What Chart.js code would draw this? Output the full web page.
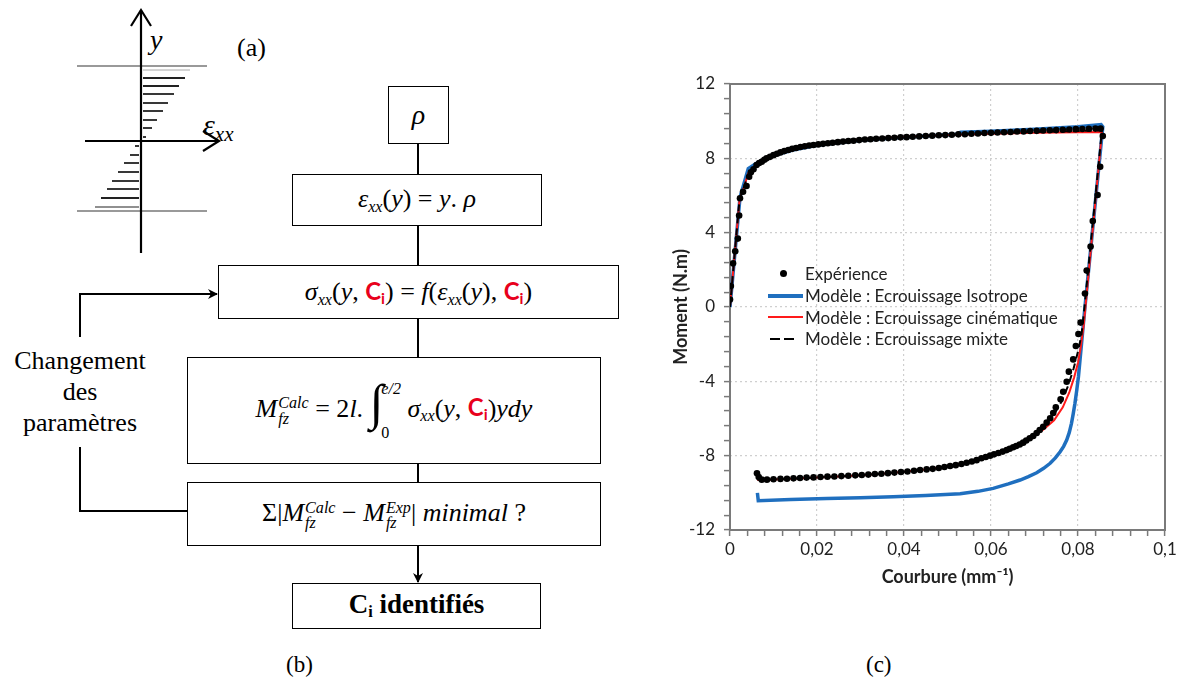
<!DOCTYPE html>
<html>
<head>
<meta charset="utf-8">
<script src="https://cdn.jsdelivr.net/npm/chart.js@4.4.1/dist/chart.umd.min.js"></script>
<style>
  body { margin: 0; width: 1184px; height: 699px; background: #fff; position: relative; overflow: hidden; font-family: "Liberation Serif", serif; }
  .abs { position: absolute; }
  .box { position: absolute; border: 1.5px solid #000; box-sizing: border-box; display: flex; align-items: center; justify-content: center; white-space: pre; font-family: "Liberation Serif", serif; font-style: italic; font-size: 26px; background: #fff; }
  .up { font-style: normal; }
  .ci { color: #e8001c; font-style: normal; font-weight: bold; font-family: Lato, sans-serif; font-size: 0.92em; }
  .ci sub { font-size: 0.65em; vertical-align: -0.25em; }
  .st { display: inline-block; vertical-align: middle; line-height: 0.95; font-size: 0.62em; text-align: left; margin-left: 1px; }
  .sb { font-size: 0.62em; vertical-align: -0.3em; }
  .lbl { position: absolute; font-size: 22px; }
  #legend { position: absolute; left: 768px; top: 263px; font-family: Lato, sans-serif; font-size: 17px; color: #222; }
  #legend .row { height: 21.7px; display: flex; align-items: center; }
  #legend .sym { width: 36px; height: 10px; position: relative; margin-right: 1px; }
</style>
</head>
<body>

<!-- (a) strain profile and (b) flowchart connectors -->
<svg class="abs" style="left:0;top:0" width="660" height="699">
  <defs>
    <marker id="ah" markerWidth="10" markerHeight="10" refX="9" refY="5" orient="auto" markerUnits="userSpaceOnUse">
      <path d="M0,0 L10,5 L0,10 L3,5 z" fill="#000"/>
    </marker>
  </defs>
  <!-- section limits -->
  <line x1="77" y1="66" x2="207" y2="66" stroke="#999" stroke-width="2"/>
  <line x1="77" y1="211" x2="207" y2="211" stroke="#999" stroke-width="2"/>
  <!-- strain hatch -->
  <g stroke="#222" stroke-width="1.8">
    <line x1="143" y1="70" x2="190" y2="70" stroke="#aaa" stroke-width="1"/>
    <line x1="143" y1="78" x2="185" y2="78"/>
    <line x1="143" y1="86" x2="179" y2="86"/>
    <line x1="143" y1="94" x2="174" y2="94"/>
    <line x1="143" y1="103" x2="168" y2="103"/>
    <line x1="143" y1="111" x2="163" y2="111"/>
    <line x1="143" y1="120" x2="157" y2="120"/>
    <line x1="143" y1="128" x2="152" y2="128"/>
    <line x1="143" y1="137" x2="146" y2="137"/>
    <line x1="135" y1="146" x2="139" y2="146"/>
    <line x1="130" y1="155" x2="139" y2="155"/>
    <line x1="124" y1="163" x2="139" y2="163"/>
    <line x1="118" y1="172" x2="139" y2="172"/>
    <line x1="112" y1="181" x2="139" y2="181"/>
    <line x1="107" y1="189" x2="139" y2="189"/>
    <line x1="101" y1="198" x2="139" y2="198"/>
    <line x1="95" y1="207" x2="139" y2="207" stroke-width="1.2"/>
  </g>
  <!-- axes -->
  <line x1="141" y1="253" x2="141" y2="10" stroke="#000" stroke-width="2.2"/>
  <polyline points="131,26 141,10 151,26" fill="none" stroke="#000" stroke-width="2.2"/>
  <line x1="85" y1="141" x2="219" y2="141" stroke="#000" stroke-width="2.2"/>
  <polyline points="203,131 219,141 203,151" fill="none" stroke="#000" stroke-width="2.2"/>

  <!-- flow connectors -->
  <g stroke="#000" stroke-width="2">
    <line x1="418" y1="143" x2="418" y2="174"/>
    <line x1="418" y1="226" x2="418" y2="265"/>
    <line x1="418" y1="318" x2="418" y2="357"/>
    <line x1="418" y1="463" x2="418" y2="482"/>
    <line x1="418" y1="545" x2="418" y2="582" marker-end="url(#ah)"/>
    <polyline points="80,337 80,294 217,294" fill="none" marker-end="url(#ah)"/>
    <polyline points="80,447 80,511 187,511" fill="none"/>
  </g>
</svg>

<div class="lbl" style="left:150px;top:24px;font-style:italic;font-size:28px;">y</div>
<div class="lbl" style="left:237px;top:33px;font-size:26px;">(a)</div>
<div class="lbl" style="left:203px;top:108px;font-style:italic;font-size:30px;">ε<span class="sb" style="font-size:0.7em">xx</span></div>

<div class="box" style="left:388px;top:86px;width:61px;height:58px;font-size:28px;"><span>ρ</span></div>
<div class="box" style="left:292px;top:174px;width:250px;height:52px;"><span>ε<span class="sb">xx</span><span class="up">(</span>y<span class="up">) = </span>y<span class="up">. </span>ρ</span></div>
<div class="box" style="left:218px;top:265px;width:401px;height:54px;"><span>σ<span class="sb">xx</span><span class="up">(</span>y<span class="up">, </span><span class="ci">C<sub>i</sub></span><span class="up">) = </span>f<span class="up">(</span>ε<span class="sb">xx</span><span class="up">(</span>y<span class="up">), </span><span class="ci">C<sub>i</sub></span><span class="up">)</span></span></div>
<div class="box" style="left:187px;top:357px;width:414px;height:107px;overflow:hidden;"><span>M<span class="st">Calc<br>fz</span><span class="up"> = 2</span>l<span class="up">. </span><span class="up" style="font-size:50px;font-weight:100;line-height:1;position:relative;top:3px;">∫</span><span class="st" style="margin-left:-2px;line-height:2.7;">e/2<br><span class="up">0</span></span><span class="up"> </span>σ<span class="sb">xx</span><span class="up">(</span>y<span class="up">, </span><span class="ci">C<sub>i</sub></span><span class="up">)</span>ydy</span></div>
<div class="box" style="left:187px;top:482px;width:414px;height:64px;"><span><span class="up">Σ|</span>M<span class="st">Calc<br>fz</span><span class="up"> − </span>M<span class="st">Exp<br>fz</span><span class="up">| </span>minimal<span class="up"> ?</span></span></div>
<div class="box" style="left:292px;top:583px;width:249px;height:46px;font-style:normal;font-weight:bold;font-size:27px;"><span>C<span style="font-size:0.6em;vertical-align:-0.25em">i</span> identifiés</span></div>

<div class="lbl" style="left:0;top:345px;width:160px;text-align:center;font-size:26px;line-height:31px;">Changement<br>des<br>paramètres</div>
<div class="lbl" style="left:286px;top:652px;font-size:23px;">(b)</div>
<div class="lbl" style="left:866px;top:652px;font-size:23px;">(c)</div>

<!-- (c) chart -->
<canvas id="momentChart" class="abs" style="left:660px;top:60px;" width="524" height="530"></canvas>

<div id="legend">
  <div class="row"><div class="sym"><span style="position:absolute;left:12px;top:1px;width:7px;height:7px;border-radius:50%;background:#000"></span></div>Expérience</div>
  <div class="row"><div class="sym"><span style="position:absolute;left:0;top:3px;width:35px;height:4px;background:#1f6fbf"></span></div>Modèle : Ecrouissage Isotrope</div>
  <div class="row"><div class="sym"><span style="position:absolute;left:0;top:4px;width:35px;height:2px;background:#ff1a1a"></span></div>Modèle : Ecrouissage cinématique</div>
  <div class="row"><div class="sym"><span style="position:absolute;left:2px;top:4px;width:10px;height:2.5px;background:#000"></span><span style="position:absolute;left:16px;top:4px;width:10px;height:2.5px;background:#000"></span></div>Modèle : Ecrouissage mixte</div>
</div>

<script>
// Axis ticks
const xMajorTicks = [0, 0.02, 0.04, 0.06, 0.08, 0.1];
const xTickLabels = ["0", "0,02", "0,04", "0,06", "0,08", "0,1"];
const yMajorTicks = [-12, -8, -4, 0, 4, 8, 12];
const yTickLabels = ["-12", "-8", "-4", "0", "4", "8", "12"];

// Expérience (points)
const expX = [0.0000, 0.0002, 0.0007, 0.0012, 0.0018, 0.0021, 0.0023, 0.0030, 0.0038, 0.0044, 0.0048, 0.0054, 0.0061, 0.0067, 0.0073, 0.0079,
  0.0084, 0.0092, 0.0100, 0.0108, 0.0116, 0.0125, 0.0134, 0.0143, 0.0152, 0.0162, 0.0172, 0.0182, 0.0192, 0.0203, 0.0214, 0.0225,
  0.0236, 0.0248, 0.0260, 0.0272, 0.0284, 0.0297, 0.0310, 0.0323, 0.0336, 0.0350, 0.0364, 0.0378, 0.0392, 0.0406, 0.0420, 0.0435,
  0.0450, 0.0465, 0.0480, 0.0495, 0.0510, 0.0525, 0.0540, 0.0555, 0.0570, 0.0585, 0.0600, 0.0615, 0.0630, 0.0645, 0.0660, 0.0675,
  0.0690, 0.0705, 0.0720, 0.0735, 0.0750, 0.0765, 0.0780, 0.0795, 0.0810, 0.0825, 0.0840, 0.0852,
  0.0857, 0.0851, 0.0845, 0.0834, 0.0829, 0.0820, 0.0816, 0.0806, 0.0801,
  0.0795, 0.0789, 0.0779, 0.0774, 0.0766, 0.0760, 0.0749, 0.0743, 0.0736, 0.0728, 0.0720, 0.0712, 0.0705, 0.0697, 0.0689, 0.0681,
  0.0674, 0.0666, 0.0658, 0.0651, 0.0643, 0.0636, 0.0627, 0.0617, 0.0607, 0.0598, 0.0588, 0.0578, 0.0567, 0.0556, 0.0544, 0.0532,
  0.0519, 0.0506, 0.0493, 0.0480, 0.0466, 0.0452, 0.0437, 0.0423, 0.0408, 0.0393, 0.0378, 0.0363, 0.0348, 0.0333, 0.0318, 0.0303,
  0.0288, 0.0272, 0.0256, 0.0240, 0.0224, 0.0208, 0.0192, 0.0176, 0.0161, 0.0146, 0.0131, 0.0116, 0.0100, 0.0085, 0.0073, 0.0066, 0.0062];
const expY = [0.40, 1.13, 2.35, 3.00, 3.68, 4.92, 5.85, 6.20, 6.51, 7.01, 7.25, 7.41, 7.64, 7.75, 7.82, 7.92,
  8.00, 8.08, 8.17, 8.25, 8.32, 8.39, 8.45, 8.51, 8.56, 8.61, 8.65, 8.69, 8.72, 8.75, 8.78, 8.81,
  8.84, 8.87, 8.90, 8.93, 8.95, 8.98, 9.01, 9.03, 9.05, 9.07, 9.09, 9.11, 9.13, 9.14, 9.16, 9.18,
  9.20, 9.22, 9.24, 9.25, 9.27, 9.29, 9.30, 9.32, 9.34, 9.36, 9.37, 9.39, 9.40, 9.42, 9.44, 9.45,
  9.47, 9.48, 9.50, 9.51, 9.52, 9.54, 9.55, 9.57, 9.58, 9.59, 9.60, 9.60,
  9.20, 7.55, 6.03, 4.63, 3.25, 1.96, 0.73, -0.84, -1.45,
  -2.10, -2.82, -3.48, -4.02, -4.56, -4.97, -5.40, -5.70, -5.99, -6.22, -6.44, -6.62, -6.78, -6.94, -7.06, -7.18,
  -7.30, -7.40, -7.48, -7.55, -7.63, -7.70, -7.78, -7.86, -7.93, -8.00, -8.07, -8.14, -8.24, -8.31, -8.38, -8.45,
  -8.51, -8.56, -8.61, -8.66, -8.71, -8.74, -8.77, -8.81, -8.85, -8.88, -8.91, -8.94, -8.97, -8.99, -9.02, -9.04,
  -9.06, -9.08, -9.10, -9.12, -9.13, -9.15, -9.17, -9.18, -9.20, -9.22, -9.24, -9.25, -9.27, -9.29, -9.29, -9.15, -8.95];

// Modèle : Ecrouissage Isotrope
const isoX = [0, 0.0023, 0.0042, 0.0060, 0.0080, 0.0100, 0.0150, 0.0200, 0.0300, 0.0400, 0.0500, 0.0520, 0.0530, 0.0600, 0.0700, 0.0800, 0.0853, 0.0857,
  0.0816, 0.0801, 0.0797, 0.0793, 0.0789, 0.0785, 0.0780, 0.0774, 0.0767, 0.0759, 0.0748, 0.0736, 0.0721, 0.0705, 0.0686, 0.0667,
  0.0640, 0.0605, 0.0570, 0.0529, 0.0450, 0.0375, 0.0300, 0.0222, 0.0140, 0.0065, 0.0063];
const isoY = [0, 5.90, 7.45, 7.72, 7.97, 8.15, 8.48, 8.70, 8.97, 9.14, 9.27, 9.30, 9.40, 9.46, 9.57, 9.70, 9.82, 9.70,
  0, -3.75, -4.50, -5.18, -5.75, -6.26, -6.75, -7.16, -7.50, -7.79, -8.12, -8.41, -8.68, -8.92, -9.13, -9.31,
  -9.52, -9.76, -9.92, -10.05, -10.15, -10.21, -10.26, -10.30, -10.36, -10.42, -10.00];

// Modèle : Ecrouissage cinématique
const cinX = [0, 0.0022, 0.0030, 0.0042, 0.0060, 0.0080, 0.0100, 0.0150, 0.0200, 0.0300, 0.0400, 0.0500, 0.0600, 0.0700, 0.0800, 0.0855,
  0.0813, 0.0806, 0.0800, 0.0791, 0.0780, 0.0765, 0.0745, 0.0720, 0.0690, 0.0650, 0.0600, 0.0550, 0.0500, 0.0450, 0.0400, 0.0350,
  0.0300, 0.0250, 0.0200, 0.0150, 0.0100, 0.0065, 0.0063];
const cinY = [0, 5.80, 6.30, 7.20, 7.65, 7.95, 8.17, 8.55, 8.77, 9.03, 9.16, 9.25, 9.32, 9.37, 9.40, 9.42,
  -1.00, -2.20, -3.00, -3.80, -4.60, -5.40, -6.10, -6.60, -7.05, -7.52, -7.98, -8.33, -8.57, -8.74, -8.87, -8.97,
  -9.05, -9.12, -9.17, -9.23, -9.28, -9.31, -9.20];

// Modèle : Ecrouissage mixte
const mixX = [0, 0.0022, 0.0030, 0.0042, 0.0060, 0.0080, 0.0100, 0.0150, 0.0200, 0.0300, 0.0400, 0.0500, 0.0600, 0.0700, 0.0800, 0.0855,
  0.0815, 0.0808, 0.0800, 0.0790, 0.0778, 0.0762, 0.0742, 0.0720, 0.0690, 0.0650, 0.0600, 0.0550, 0.0500, 0.0450, 0.0400, 0.0350,
  0.0300, 0.0250, 0.0200, 0.0150, 0.0100, 0.0065, 0.0062];
const mixY = [0, 5.82, 6.30, 7.15, 7.65, 7.95, 8.17, 8.55, 8.76, 9.02, 9.15, 9.26, 9.35, 9.42, 9.47, 9.50,
  0, -1.50, -2.40, -3.30, -4.20, -5.10, -5.90, -6.45, -7.00, -7.52, -7.98, -8.33, -8.57, -8.74, -8.87, -8.97,
  -9.05, -9.12, -9.17, -9.23, -9.28, -9.30, -8.95];

const toPoints = (xs, ys) => xs.map((x, i) => ({ x: x, y: ys[i] }));

// minor ticks: 5 subdivisions between majors
function withMinor(majors) {
  const out = [];
  for (let i = 0; i < majors.length - 1; i++) {
    const step = (majors[i + 1] - majors[i]) / 5;
    for (let k = 0; k < 5; k++) out.push(majors[i] + k * step);
  }
  out.push(majors[majors.length - 1]);
  return out;
}
const majorIndex = (majors, v) => majors.findIndex(m => Math.abs(m - v) < 1e-9);

const frame = {
  id: 'frame',
  beforeDatasetsDraw(chart) {
    const { ctx, chartArea: a } = chart;
    ctx.save();
    ctx.strokeStyle = '#7a7a7a';
    ctx.lineWidth = 2;
    ctx.strokeRect(a.left, a.top, a.right - a.left, a.bottom - a.top);
    ctx.restore();
  }
};

const axisFont = { family: 'Lato', size: 17 };
const titleFont = { family: 'Lato', size: 18, weight: 'bold' };

new Chart(document.getElementById('momentChart').getContext('2d'), {
  type: 'scatter',
  data: {
    datasets: [
      {
        label: 'Expérience',
        data: toPoints(expX, expY),
        pointRadius: 3.3,
        pointBackgroundColor: '#000',
        pointBorderWidth: 0,
        showLine: false
      },
      {
        label: 'Modèle : Ecrouissage mixte',
        data: toPoints(mixX, mixY),
        showLine: true,
        borderColor: '#000',
        borderWidth: 2,
        borderDash: [7, 5],
        pointRadius: 0,
        tension: 0
      },
      {
        label: 'Modèle : Ecrouissage cinématique',
        data: toPoints(cinX, cinY),
        showLine: true,
        borderColor: '#ff1a1a',
        borderWidth: 2,
        pointRadius: 0,
        tension: 0
      },
      {
        label: 'Modèle : Ecrouissage Isotrope',
        data: toPoints(isoX, isoY),
        showLine: true,
        borderColor: '#1f6fbf',
        borderWidth: 3.5,
        pointRadius: 0,
        tension: 0
      }
    ]
  },
  options: {
    responsive: false,
    animation: false,
    layout: { padding: { top: 24, right: 19, left: 0, bottom: 0 } },
    plugins: {
      legend: { display: false },
      tooltip: { enabled: false }
    },
    scales: {
      x: {
        type: 'linear',
        min: 0,
        max: 0.1,
        afterBuildTicks: s => { s.ticks = withMinor(xMajorTicks).map(v => ({ value: v })); },
        afterFit: s => { s.height = 60; },
        ticks: {
          autoSkip: false,
          maxRotation: 0,
          padding: 3,
          color: '#222',
          font: axisFont,
          callback: v => { const i = majorIndex(xMajorTicks, v); return i < 0 ? '' : xTickLabels[i]; }
        },
        grid: {
          color: c => (c.tick && majorIndex(xMajorTicks, c.tick.value) > 0 && majorIndex(xMajorTicks, c.tick.value) < xMajorTicks.length - 1) ? '#cfcfcf' : 'rgba(0,0,0,0)',
          lineWidth: 1.2,
          tickColor: '#7a7a7a',
          tickLength: 6,
          tickWidth: 1.5
        },
        border: { display: false, dash: [2, 3] },
        title: { display: true, text: 'Courbure (mm⁻¹)', color: '#222', font: titleFont, padding: { top: 0, bottom: 2 } }
      },
      y: {
        type: 'linear',
        min: -12,
        max: 12,
        afterBuildTicks: s => { s.ticks = withMinor(yMajorTicks).map(v => ({ value: v })); },
        afterFit: s => { s.width = 70; },
        ticks: {
          autoSkip: false,
          padding: 9,
          color: '#222',
          font: axisFont,
          callback: v => { const i = majorIndex(yMajorTicks, v); return i < 0 ? '' : yTickLabels[i]; }
        },
        grid: {
          color: c => (c.tick && majorIndex(yMajorTicks, c.tick.value) > 0 && majorIndex(yMajorTicks, c.tick.value) < yMajorTicks.length - 1) ? '#cfcfcf' : 'rgba(0,0,0,0)',
          lineWidth: 1.2,
          tickColor: '#7a7a7a',
          tickLength: 6,
          tickWidth: 1.5
        },
        border: { display: false, dash: [2, 3] },
        title: { display: true, text: 'Moment (N.m)', color: '#222', font: titleFont, padding: { top: 10, bottom: 0 } }
      }
    }
  },
  plugins: [frame]
});
</script>
</body>
</html>
